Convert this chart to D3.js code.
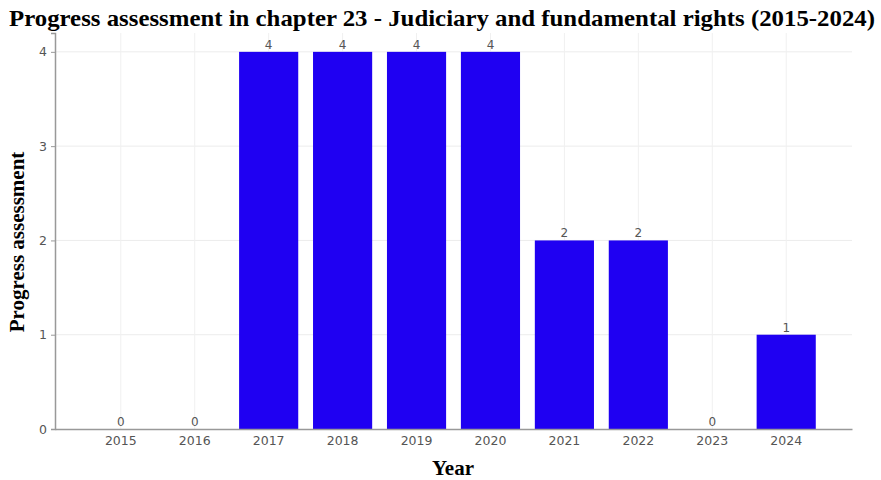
<!DOCTYPE html>
<html>
<head>
<meta charset="utf-8">
<script src="https://cdn.jsdelivr.net/npm/d3@7"></script>
<style>
  body { margin: 0; background: #fff; }
  svg { display: block; }
</style>
</head>
<body>
<div id="chart"></div>
<script>
// chart data
const years = ["2015", "2016", "2017", "2018", "2019", "2020", "2021", "2022", "2023", "2024"];
const scores = [0, 0, 4, 4, 4, 4, 2, 2, 0, 1];
const yTicks = [0, 1, 2, 3, 4];

const width = 881, height = 480;
const margin = { top: 33, right: 29, bottom: 51, left: 55 };

const svg = d3.select("#chart").append("svg")
    .attr("width", width)
    .attr("height", height);

const x = d3.scaleBand()
    .domain(years)
    .range([margin.left, width - margin.right])
    .paddingInner(0.2)
    .paddingOuter(0.49);

const y = d3.scaleLinear()
    .domain([0, 4.2])
    .range([height - margin.bottom, margin.top]);

// grid
const grid = svg.append("g");
grid.selectAll("line.h")
    .data(yTicks.slice(1))
    .enter().append("line")
    .attr("x1", margin.left).attr("x2", width - margin.right)
    .attr("y1", d => y(d)).attr("y2", d => y(d))
    .attr("stroke", "#ececec").attr("stroke-width", 1);
grid.selectAll("line.v")
    .data(years)
    .enter().append("line")
    .attr("x1", d => x(d) + x.bandwidth() / 2).attr("x2", d => x(d) + x.bandwidth() / 2)
    .attr("y1", margin.top).attr("y2", height - margin.bottom)
    .attr("stroke", "#f0f0f0").attr("stroke-width", 1);

// bars
svg.append("g")
    .selectAll("rect")
    .data(years)
    .enter().append("rect")
    .attr("x", d => x(d))
    .attr("width", x.bandwidth())
    .attr("y", (d, i) => y(scores[i]))
    .attr("height", (d, i) => y(0) - y(scores[i]))
    .attr("fill", "#1f00f2");

// value labels
svg.append("g")
    .selectAll("text")
    .data(years)
    .enter().append("text")
    .attr("x", d => x(d) + x.bandwidth() / 2)
    .attr("y", (d, i) => y(scores[i]) - 3)
    .attr("text-anchor", "middle")
    .attr("font-family", "DejaVu Sans")
    .attr("font-size", 12)
    .attr("fill", "#555")
    .text((d, i) => scores[i]);

// axes
const xAxis = svg.append("g")
    .attr("transform", `translate(0,${height - margin.bottom})`)
    .call(d3.axisBottom(x).tickSize(0).tickPadding(7));
const yAxis = svg.append("g")
    .attr("transform", `translate(${margin.left},0)`)
    .call(d3.axisLeft(y).tickValues(yTicks).tickFormat(d3.format("d")).tickSize(4).tickPadding(4));

[xAxis, yAxis].forEach(a => {
    a.select(".domain").attr("stroke", "#999").attr("stroke-width", 1.5);
    a.selectAll(".tick line").attr("stroke", "#999");
    a.selectAll("text")
        .attr("font-family", "DejaVu Sans")
        .attr("font-size", 12.5)
        .attr("fill", "#555");
});

// title and axis labels
svg.append("text")
    .attr("x", 442).attr("y", 26)
    .attr("text-anchor", "middle")
    .attr("font-family", "Liberation Serif")
    .attr("font-weight", "bold")
    .attr("font-size", 23)
    .attr("textLength", 866)
    .attr("lengthAdjust", "spacingAndGlyphs")
    .text("Progress assessment in chapter 23 - Judiciary and fundamental rights (2015-2024)");

svg.append("text")
    .attr("x", 453).attr("y", 475)
    .attr("text-anchor", "middle")
    .attr("font-family", "Liberation Serif")
    .attr("font-weight", "bold")
    .attr("font-size", 21)
    .text("Year");

svg.append("text")
    .attr("transform", "translate(24,242) rotate(-90)")
    .attr("text-anchor", "middle")
    .attr("font-family", "Liberation Serif")
    .attr("font-weight", "bold")
    .attr("font-size", 21)
    .text("Progress assessment");
</script>
</body>
</html>
